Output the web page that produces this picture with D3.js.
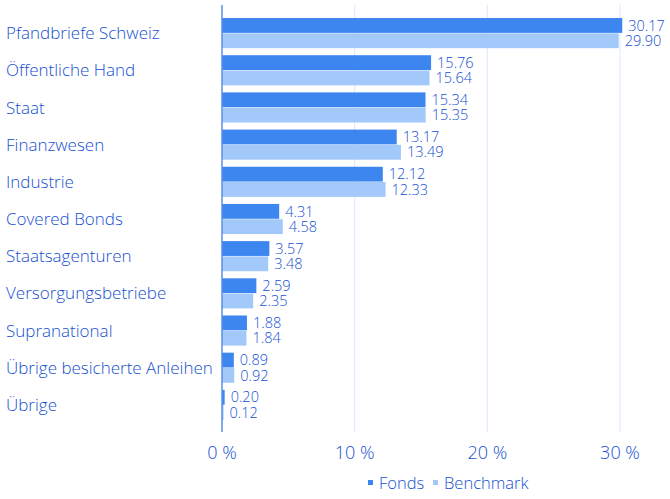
<!DOCTYPE html>
<html><head><meta charset="utf-8">
<script src="https://cdn.jsdelivr.net/npm/d3@7"></script>
<style>body{margin:0;background:#fff;} text{font-family:"Open Sans",sans-serif;font-weight:360;}</style>
</head><body>
<svg id="c" width="670" height="499"></svg>
<script>
const categories = ["Pfandbriefe Schweiz","Öffentliche Hand","Staat","Finanzwesen","Industrie","Covered Bonds","Staatsagenturen","Versorgungsbetriebe","Supranational","Übrige besicherte Anleihen","Übrige"];
const fonds = [30.17,15.76,15.34,13.17,12.12,4.31,3.57,2.59,1.88,0.89,0.20];
const benchmark = [29.90,15.64,15.35,13.49,12.33,4.58,3.48,2.35,1.84,0.92,0.12];
const seriesNames = ["Fonds","Benchmark"];
const xTicks = [0,10,20,30];

const colors = ["#3d86f0","#a3c9fb"];
const textColor = "#1650d2";
const svg = d3.select("#c");
const x = d3.scaleLinear().domain([0,30]).range([222,620]);
const y = d3.scaleBand().domain(categories).range([14.5,423.5]).paddingInner(0.19).paddingOuter(0.095);
const ys = d3.scaleBand().domain(seriesNames).range([0,y.bandwidth()]).paddingInner(0.03);

// grid
svg.append("g").selectAll("line").data(xTicks.slice(1)).join("line")
  .attr("x1",d=>x(d)).attr("x2",d=>x(d)).attr("y1",5).attr("y2",432)
  .attr("stroke","#d9e8fc").attr("stroke-width",1);

const data = categories.map((c,i)=>({c, vals:[fonds[i],benchmark[i]]}));
const g = svg.append("g").selectAll("g").data(data).join("g")
  .attr("transform",d=>`translate(0,${y(d.c)})`);
g.selectAll("rect").data(d=>d.vals.map((v,j)=>({v,s:seriesNames[j],j}))).join("rect")
  .attr("x",x(0)).attr("y",d=>ys(d.s)).attr("height",ys.bandwidth())
  .attr("width",d=>x(d.v)-x(0)).attr("fill",d=>colors[d.j]);
g.selectAll("text").data(d=>d.vals.map((v,j)=>({v,s:seriesNames[j],j}))).join("text")
  .attr("x",d=>x(d.v)+6).attr("y",d=>ys(d.s)+ys.bandwidth()/2)
  .attr("dy","0.36em").attr("font-size",14.5).attr("fill",textColor)
  .text(d=>d.v.toFixed(2));

// category labels
svg.append("g").selectAll("text").data(categories).join("text")
  .attr("x",6).attr("y",d=>y(d)+y.bandwidth()/2).attr("dy","0.36em")
  .attr("font-size",17).attr("fill",textColor).text(d=>d);

// zero axis line
svg.append("line").attr("x1",x(0)).attr("x2",x(0)).attr("y1",5).attr("y2",432)
  .attr("stroke","#5a8fe2").attr("stroke-width",1.5);

// x axis labels
svg.append("g").selectAll("text").data(xTicks).join("text")
  .attr("x",d=>x(d)).attr("y",453).attr("dy","0.36em").attr("text-anchor","middle")
  .attr("font-size",18).attr("fill",textColor).text(d=>d+" %");

// legend
const leg = svg.append("g");
const legX = [368,433];
seriesNames.forEach((s,i)=>{
  leg.append("rect").attr("x",legX[i]).attr("y",480).attr("width",5).attr("height",5).attr("fill",colors[i]);
  leg.append("text").attr("x",legX[i]+11).attr("y",483).attr("dy","0.36em").attr("font-size",16.5).attr("fill",textColor).text(s);
});
</script>
</body></html>
